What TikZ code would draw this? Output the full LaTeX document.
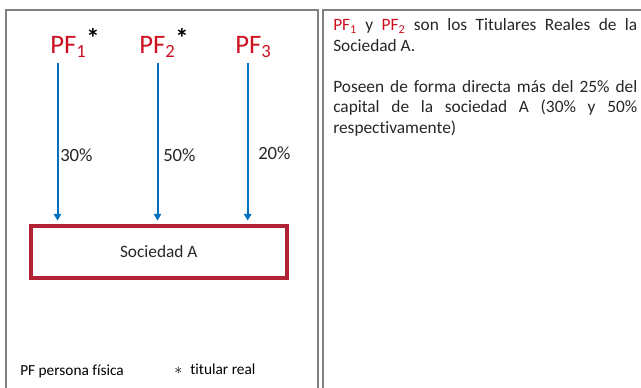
\documentclass[tikz,border=0pt]{standalone}
\usepackage{fontspec}
\setmainfont{Carlito}[Ligatures=NoCommon]
\usetikzlibrary{arrows.meta,positioning}

\definecolor{pfred}{RGB}{204,16,32}
\definecolor{boxred}{RGB}{178,34,52}
\definecolor{ownblue}{RGB}{0,112,192}
\definecolor{panelgray}{RGB}{128,128,128}
\definecolor{txtgray}{RGB}{38,38,38}

\newcommand{\pfname}[1]{\textcolor{pfred}{PF\textsubscript{#1}}}
\newcommand{\fullline}[1]{\makebox[228pt][s]{#1}}
\newcommand{\realmark}{\textcolor{black}{\raisebox{4.5pt}{\textbf{*}}}}

\begin{document}
\begin{tikzpicture}[
    x=0.75pt, y=-0.75pt,
    panel/.style={
        draw=panelgray,
        line width=1.6pt
    },
    person/.style={
        anchor=base west,
        inner sep=0pt,
        text=pfred,
        font=\fontsize{20}{24}\selectfont
    },
    company/.style={
        rectangle,
        minimum width=192pt,
        minimum height=39pt,
        draw=boxred,
        line width=3pt,
        text=txtgray,
        font=\fontsize{13}{15}\selectfont
    },
    share/.style={
        anchor=west,
        inner sep=0pt,
        text=txtgray,
        font=\fontsize{14}{16}\selectfont
    },
    legend/.style={
        anchor=west,
        inner sep=0pt,
        text=black,
        font=\fontsize{11.5}{14}\selectfont
    },
    own/.style={
        ownblue,
        line width=1.5pt,
        -{Triangle[width=5.5pt,length=5pt]},
        shorten >=2.2pt
    }
]
\useasboundingbox (0,0) rectangle (641,387);

% Panels
\draw[panel] (6,400) -- (6,10) -- (318,10) -- (318,400);
\draw[panel] (323,400) -- (323,10) -- (660,10);

% Owners
\node[person] (pf1) at (50,53) {PF\textsubscript{1}\realmark};
\node[person] (pf2) at (139,53) {PF\textsubscript{2}\realmark};
\node[person] (pf3) at (235,53) {PF\textsubscript{3}};

% Company
\node[company] (soc) at (158.75,251.5) {Sociedad A};

% Arrows
\coordinate (t1) at (57.5,63);
\coordinate (t2) at (157.5,63);
\coordinate (t3) at (247.7,63);
\draw[own] (t1) -- (t1 |- soc.north);
\draw[own] (t2) -- (t2 |- soc.north);
\draw[own] (t3) -- (t3 |- soc.north);

\node[share] (p1) at (60,155) {30\%};
\node[share] (p2) at (163,155) {50\%};
\node[share] (p3) at (258,153) {20\%};

% Legend
\node[legend] (leg1) at (20,371) {PF persona física};
\node[legend] (leg2) at (174,369.5) {$\ast$\hspace{6pt}titular real};

% Explanation
\node[anchor=north west, inner sep=0pt, align=left, text=txtgray,
      font=\fontsize{13}{15.4}\selectfont] (note) at (333,18.5) {%
    \fullline{\pfname{1} y \pfname{2} son los Titulares Reales de la}\\
    Sociedad A.\\[15.4pt]
    \fullline{Poseen de forma directa más del 25\% del}\\
    \fullline{capital de la sociedad A (30\% y 50\%}\\
    respectivamente)};

\end{tikzpicture}
\end{document}
